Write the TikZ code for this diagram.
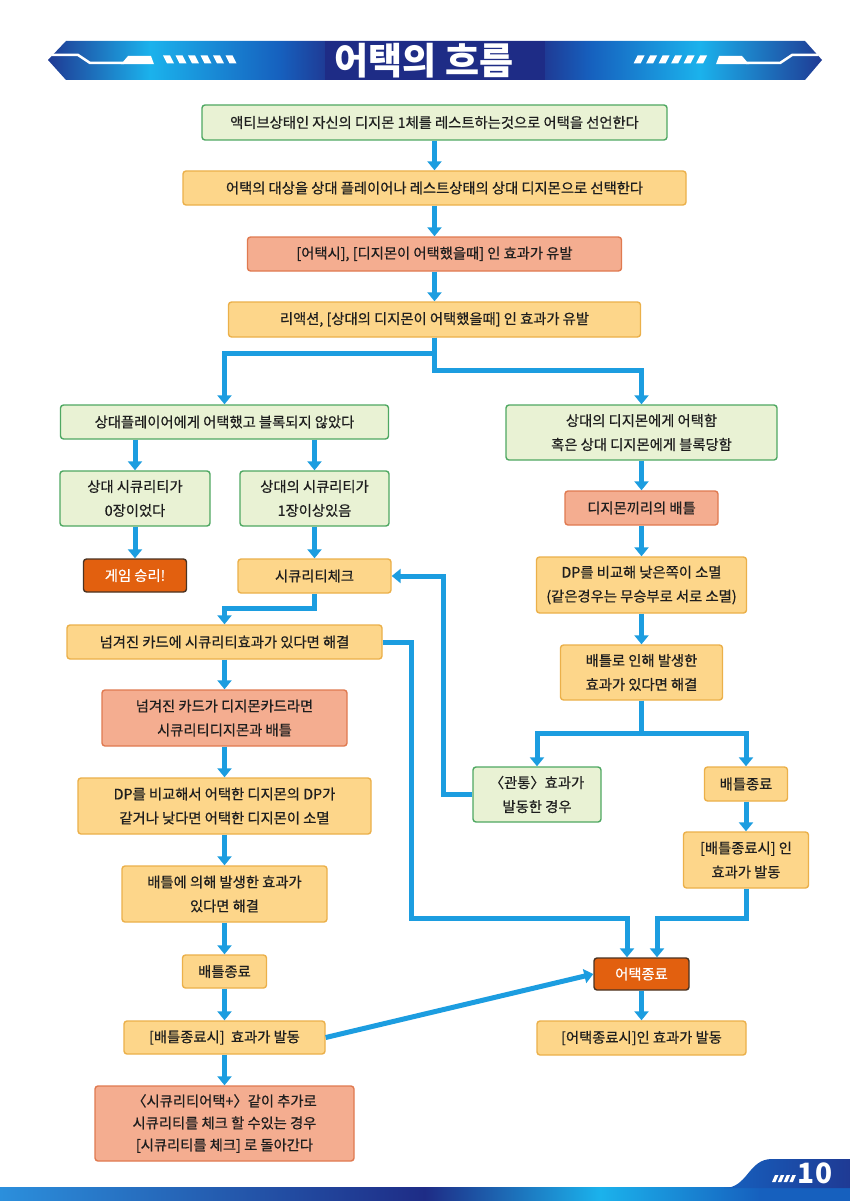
\documentclass[tikz,border=0pt]{standalone}
\usepackage{fontspec}
\setmainfont{Noto Sans CJK KR}
\newfontfamily\boxfont{Noto Sans CJK KR}[FakeBold=0.6]
\usetikzlibrary{arrows.meta,calc}

\definecolor{gfill}{HTML}{E9F2D4}
\definecolor{gline}{HTML}{4FA862}
\definecolor{ofill}{HTML}{FDD68A}
\definecolor{oline}{HTML}{EBB04A}
\definecolor{sfill}{HTML}{F4AD90}
\definecolor{sline}{HTML}{E07A50}
\definecolor{dfill}{HTML}{E2600F}
\definecolor{dline}{HTML}{4A3322}
\definecolor{arrc}{HTML}{1C9DE0}
\definecolor{bdark}{HTML}{1F3A94}
\definecolor{bcyan}{HTML}{1BB2EC}
\definecolor{bmid}{HTML}{1660BE}
\definecolor{bnavy}{HTML}{1E2C86}
\definecolor{flight}{HTML}{2B8FDC}
\definecolor{txt}{HTML}{1E1E1E}

\pgfdeclarehorizontalshading{bannershade}{100bp}{color(0bp)=(bdark); color(25bp)=(bdark); color(31.6bp)=(bcyan); color(40bp)=(bmid); color(43bp)=(bdark); color(57bp)=(bdark); color(60bp)=(bmid); color(67.1bp)=(bcyan); color(75bp)=(bdark); color(100bp)=(bdark)}
\pgfdeclarehorizontalshading{footshade}{100bp}{color(0bp)=(flight); color(25bp)=(flight); color(50bp)=(bnavy); color(60.3bp)=(bcyan); color(69.7bp)=(bmid); color(75bp)=(bmid); color(100bp)=(bmid)}

\begin{document}
\begin{tikzpicture}[x=1pt,y=-1pt,
  box/.style={rounded corners=3pt, line width=1.4pt, align=center, inner sep=0pt,
    font=\boxfont\fontsize{14.3}{24}\selectfont, text=txt},
  gbox/.style={box, fill=gfill, draw=gline},
  obox/.style={box, fill=ofill, draw=oline},
  sbox/.style={box, fill=sfill, draw=sline},
  dbox/.style={box, fill=dfill, draw=dline, text=white},
  arr/.style={draw=arrc, line width=5pt, -{Triangle[width=14pt,length=9pt]}},
  sz/.style 2 args={minimum width=#1pt, minimum height=#2pt},
  deco/.style={white}
]
\useasboundingbox (0,0) rectangle (850,1201);
\fill[white] (0,0) rectangle (850,1201);

% ---------- header banner ----------
\shade[shading=bannershade] (48,60) -- (66,41) -- (805,41) -- (822,60) -- (805,80) -- (66,80) -- cycle;
\fill[bnavy] (325,41) rectangle (545,80);
\node[text=white, font=\fontsize{37}{37}\selectfont\bfseries] (title) at (424,61) {어택의 흐름};
\foreach \s/\k in {0/1,870/-1}{
  \begin{scope}[xshift=\s pt, xscale=\k]
    \draw[deco, line width=2.5pt] (52,55) -- (78,55) -- (90,63) -- (124,63);
    \fill[deco] (121,64.2) -- (154,64.2) -- (151,56) -- (128,56) -- cycle;
    \foreach \i in {0,...,5}
      \fill[deco] ({163+12.5*\i},55.5) -- ++(7,0) -- ++(4,8) -- ++(-7,0) -- cycle;
  \end{scope}
}

% ---------- footer ----------
\shade[shading=footshade] (0,1187) rectangle (850,1201);
\shade[left color=bmid, right color=bdark] (724,1188) .. controls (748,1188) and (748,1159) .. (772,1159) -- (850,1159) -- (850,1188) -- cycle;
\foreach \i in {0,...,3}
  \fill[white] ({772+5.8*\i},1182) -- ++(3.5,0) -- ++(3,-7) -- ++(-3.5,0) -- cycle;
\node[text=white, font=\fontsize{28}{28}\selectfont\bfseries] (pg) at (815,1173) {10};

% ---------- nodes ----------
\node[gbox, sz={465}{35}] (n1) at (434.5,122.5) {액티브상태인 자신의 디지몬 1체를 레스트하는것으로 어택을 선언한다};
\node[obox, sz={503}{34}] (n2) at (434.5,188) {어택의 대상을 상대 플레이어나 레스트상태의 상대 디지몬으로 선택한다};
\node[sbox, sz={374}{34}] (n3) at (434.5,254) {[어택시], [디지몬이 어택했을때] 인 효과가 유발};
\node[obox, sz={412}{35}] (n4) at (434.5,319.5) {리액션, [상대의 디지몬이 어택했을때] 인 효과가 유발};

\node[gbox, sz={328}{34}] (n5) at (224.5,422) {상대플레이어에게 어택했고 블록되지 않았다};
\node[gbox, sz={271}{55}] (n6) at (641.5,432.5) {상대의 디지몬에게 어택함\\혹은 상대 디지몬에게 블록당함};

\node[gbox, sz={150}{55}] (n7) at (135,498.5) {상대 시큐리티가\\0장이었다};
\node[gbox, sz={149}{55}] (n8) at (314.5,498.5) {상대의 시큐리티가\\1장이상있음};
\node[dbox, sz={103}{33}] (n9) at (135,575.5) {게임 승리!};
\node[obox, sz={153}{34}] (n10) at (314.5,576) {시큐리티체크};

\node[sbox, sz={153}{34}] (n11) at (641.5,508) {디지몬끼리의 배틀};
\node[obox, sz={210}{56}] (n12) at (641.5,585) {DP를 비교해 낮은쪽이 소멸\\(같은경우는 무승부로 서로 소멸)};
\node[obox, sz={162}{55}] (n13) at (641.5,672.5) {배틀로 인해 발생한\\효과가 있다면 해결};
\node[gbox, sz={128}{55}] (n14) at (537,794.5) {〈관통〉효과가\\발동한 경우};
\node[obox, sz={83}{34}] (n15) at (746,784) {배틀종료};
\node[obox, sz={125}{56}] (n16) at (746,860) {[배틀종료시] 인\\효과가 발동};

\node[obox, sz={315}{34}] (n17) at (224.5,642) {넘겨진 카드에 시큐리티효과가 있다면 해결};
\node[sbox, sz={245}{56}] (n18) at (224.5,718) {넘겨진 카드가 디지몬카드라면\\시큐리티디지몬과 배틀};
\node[obox, sz={293}{56}] (n19) at (224.5,806) {DP를 비교해서 어택한 디지몬의 DP가\\같거나 낮다면 어택한 디지몬이 소멸};
\node[obox, sz={205}{56}] (n20) at (224.5,894) {배틀에 의해 발생한 효과가\\있다면 해결};
\node[obox, sz={84}{33}] (n21) at (224.5,971.5) {배틀종료};
\node[obox, sz={201}{33}] (n22) at (224.5,1037.5) {[배틀종료시]\ \ 효과가 발동};
\node[sbox, sz={259}{75}, font=\boxfont\fontsize{14.3}{22}\selectfont] (n23) at (224.5,1123.5) {〈시큐리티어택+〉같이 추가로\\시큐리티를 체크 할 수있는 경우\\{[}시큐리티를 체크] 로 돌아간다};

\node[dbox, sz={95}{32}] (n24) at (641.5,974) {어택종료};
\node[obox, sz={209}{34}] (n25) at (641.5,1038) {[어택종료시]인 효과가 발동};

% ---------- connectors ----------
\draw[arr] (n1.south) -- (n2.north);
\draw[arr] (n2.south) -- (n3.north);
\draw[arr] (n3.south) -- (n4.north);
\draw[arr] (n4.south) -- ++(0,16) -| (n5.north);
\draw[arr] (n4.south) -- ++(0,33) -| (n6.north);
\draw[arr] (n7.north |- n5.south) -- (n7.north);
\draw[arr] (n8.north |- n5.south) -- (n8.north);
\draw[arr] (n7.south) -- (n9.north);
\draw[arr] (n8.south) -- (n10.north);
\draw[arr] (n10.south) -- ++(0,15) -| (n17.north);

\draw[arr] (n6.south) -- (n11.north);
\draw[arr] (n11.south) -- (n12.north);
\draw[arr] (n12.south) -- (n13.north);
\draw[arr] (n13.south) -- ++(0,33) -| (n14.north);
\draw[arr] (n13.south) -- ++(0,33) -| (n15.north);
\draw[arr] (n15.south) -- (n16.north);
\draw[arr] (n14.west) -- ++(-29,0) |- (n10.east);

\draw[arr] (n17.south) -- (n18.north);
\draw[arr] (n18.south) -- (n19.north);
\draw[arr] (n19.south) -- (n20.north);
\draw[arr] (n20.south) -- (n21.north);
\draw[arr] (n21.south) -- (n22.north);
\draw[arr] (n22.south) -- (n23.north);

\coordinate (j1) at (411,918);
\coordinate (j2) at (627,918);
\coordinate (j3) at (657,918);
\draw[arr] (n17.east) -| (j1) -- (j2) -- (j2 |- n24.north);
\draw[arr] (n16.south) |- (j3) -- (j3 |- n24.north);
\draw[arr] (n22.east) -- (n24.west);
\draw[arr] (n24.south) -- (n25.north);
\end{tikzpicture}
\end{document}
